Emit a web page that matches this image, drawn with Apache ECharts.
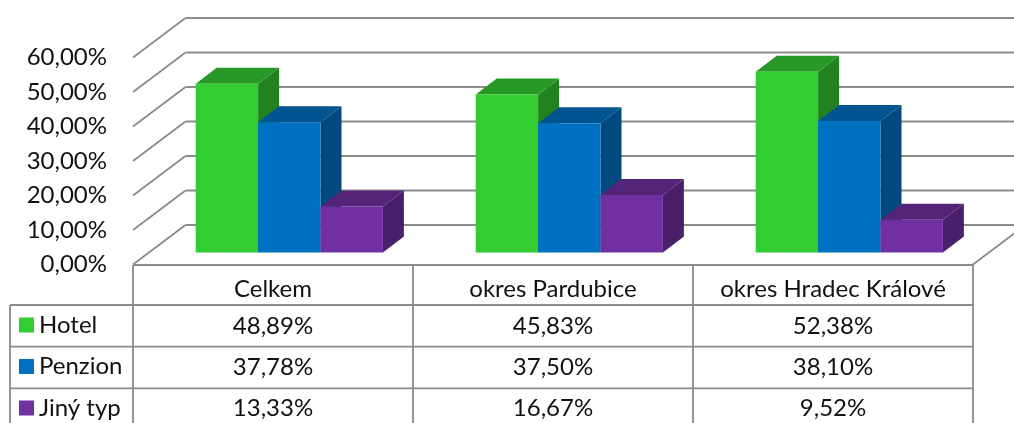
<!DOCTYPE html>
<html>
<head>
<meta charset="utf-8">
<style>html,body{margin:0;padding:0;background:#fff;overflow:hidden}#c{width:1014px;height:423px}</style>
<script src="https://cdn.jsdelivr.net/npm/echarts@6/dist/echarts.min.js"></script>
</head>
<body>
<div id="c"></div>
<script>
const categories = ['Celkem', 'okres Pardubice', 'okres Hradec Králové'];
const hotel = [48.89, 45.83, 52.38];
const penzion = [37.78, 37.50, 38.10];
const jiny = [13.33, 16.67, 9.52];
const ticks = [0, 10, 20, 30, 40, 50, 60];

const FONT = 'Lato';
const FS = 24;
const TXT = '#111111';
const LINE = '#8b8b8b';
const LW = 1.8;
const WALL = [52.5, -39.5];
const DEPTH = [21, -16];
const OFFS = [16.3, -12];
const BAR_W = 62.4;
const ROWS = [305, 346.7, 388.3];
const ROW_TEXT = [326, 367, 408];

const fmt = v => v.toFixed(2).replace('.', ',') + '%';

function ln(x1, y1, x2, y2) {
  return { type: 'line', shape: { x1, y1, x2, y2 }, style: { stroke: LINE, lineWidth: LW } };
}

function wallItem(params, api) {
  const g = params.coordSys;
  const p = api.coord([0, api.value(1)]);
  const y = p[1];
  const right = g.x + g.width;
  const kids = [
    ln(g.x, y, g.x + WALL[0], y + WALL[1]),
    ln(g.x + WALL[0], y + WALL[1], right + WALL[0], y + WALL[1])
  ];
  if (api.value(1) === 0) {
    kids.push(ln(right, y, right + WALL[0], y + WALL[1]));
  }
  return { type: 'group', children: kids };
}

function barRender(seriesIdx, front, top, side, rowIdx) {
  return function (params, api) {
    const i = api.value(0), v = api.value(1);
    const c0 = api.coord([i, 0]);
    const c1 = api.coord([i, v]);
    const xL = c0[0] + OFFS[0] - 1.5 * BAR_W + seriesIdx * BAR_W;
    const xR = xL + BAR_W;
    const yB = c0[1] + OFFS[1];
    const yT = c1[1] + OFFS[1];
    const dx = DEPTH[0], dy = DEPTH[1];
    return {
      type: 'group',
      children: [
        { type: 'polygon', shape: { points: [[xR, yB], [xR + dx, yB + dy], [xR + dx, yT + dy], [xR, yT]] }, style: { fill: side } },
        { type: 'polygon', shape: { points: [[xL, yT], [xR, yT], [xR + dx, yT + dy], [xL + dx, yT + dy]] }, style: { fill: top } },
        { type: 'rect', shape: { x: xL, y: yT, width: BAR_W, height: yB - yT }, style: { fill: front } },
        { type: 'text', x: c0[0], y: ROW_TEXT[rowIdx], style: { text: fmt(v), fill: TXT, font: FS + 'px ' + FONT, textAlign: 'center', textVerticalAlign: 'middle' } }
      ]
    };
  };
}

function pairs(arr) { return arr.map((v, i) => [i, v]); }

const tableLines = [];
ROWS.forEach(y => tableLines.push([10, y, 973, y]));
tableLines.push([10, 305, 10, 423]);
[133, 413, 693, 973].forEach(x => tableLines.push([x, 265, x, 423]));
tableLines.push([133, 265, 973, 265]);

const chart = echarts.init(document.getElementById('c'), null, { renderer: 'canvas' });
chart.setOption({
  animation: false,
  backgroundColor: '#fff',
  grid: { left: 133, top: 57.5, width: 840, height: 207 },
  legend: {
    left: 19, top: 313, orient: 'vertical', icon: 'rect', padding: 0,
    itemWidth: 15, itemHeight: 15, itemGap: 17.5,
    data: ['Hotel', 'Penzion', 'Jiný typ'],
    selectedMode: false,
    textStyle: { fontFamily: FONT, fontSize: FS, lineHeight: 24, color: TXT }
  },
  xAxis: {
    type: 'category', data: categories,
    axisLine: { show: false }, axisTick: { show: false },
    axisLabel: { fontFamily: FONT, fontSize: FS, color: TXT, margin: 13, interval: 0, hideOverlap: false }
  },
  yAxis: {
    type: 'value', min: 0, max: 60, interval: 10,
    axisLine: { show: false }, axisTick: { show: false }, splitLine: { show: false },
    axisLabel: { fontFamily: FONT, fontSize: FS, color: TXT, margin: 26, padding: [2, 0, 0, 0], showMinLabel: true, showMaxLabel: true, hideOverlap: false, formatter: v => fmt(v) }
  },
  graphic: tableLines.map(l => ({
    type: 'line', silent: true, z: 10,
    shape: { x1: l[0], y1: l[1], x2: l[2], y2: l[3] },
    style: { stroke: LINE, lineWidth: LW }
  })),
  series: [
    { type: 'custom', name: 'walls', clip: false, silent: true, renderItem: wallItem, data: ticks.map(t => [0, t]), encode: { x: 0, y: 1 } },
    { type: 'custom', name: 'Hotel', clip: false, itemStyle: { color: '#32CD32' }, renderItem: barRender(0, '#32CD32', '#289926', '#22821F', 0), data: pairs(hotel), encode: { x: 0, y: 1 } },
    { type: 'custom', name: 'Penzion', clip: false, itemStyle: { color: '#0070C0' }, renderItem: barRender(1, '#0070C0', '#00548F', '#004A7F', 1), data: pairs(penzion), encode: { x: 0, y: 1 } },
    { type: 'custom', name: 'Jiný typ', clip: false, itemStyle: { color: '#7030A0' }, renderItem: barRender(2, '#7030A0', '#542478', '#491F6A', 2), data: pairs(jiny), encode: { x: 0, y: 1 } }
  ]
});
</script>
</body>
</html>
